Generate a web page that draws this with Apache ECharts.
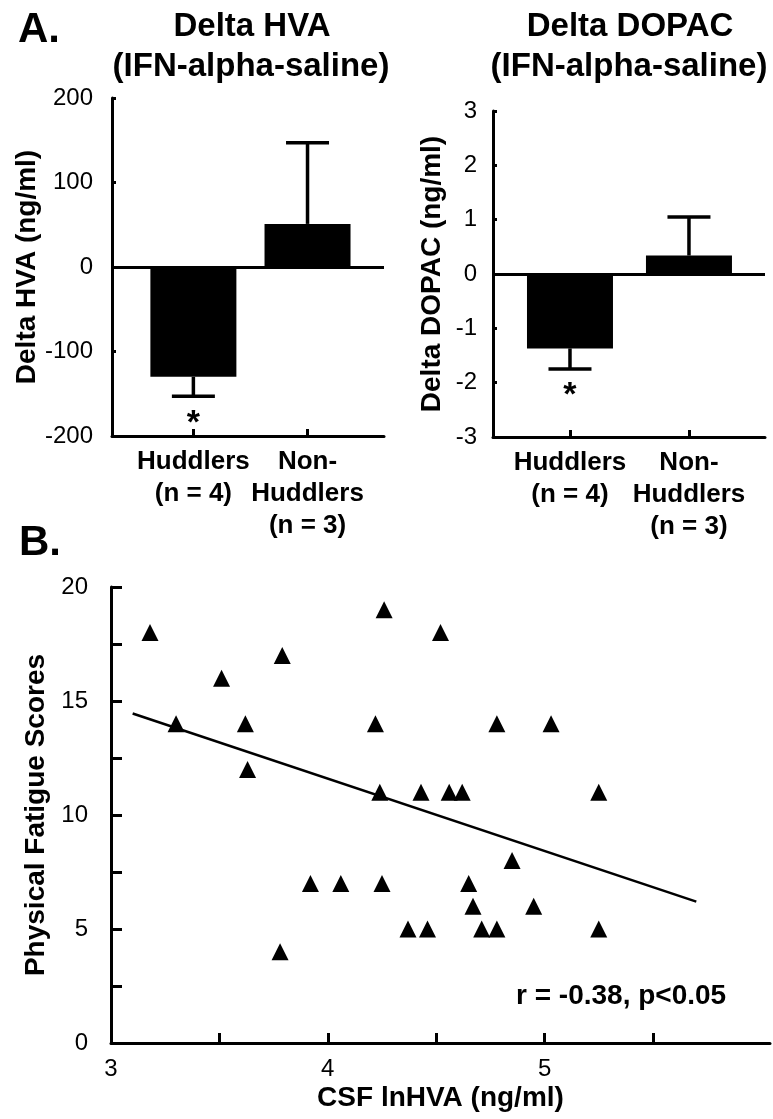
<!DOCTYPE html>
<html>
<head>
<meta charset="utf-8">
<script src="https://cdn.jsdelivr.net/npm/echarts@6/dist/echarts.min.js"></script>
<style>
html,body{margin:0;padding:0;background:#fff;}
#c{width:773px;height:1119px;}
</style>
</head>
<body>
<div id="c"></div>
<script>
// ---- data ----
const groups = ['Huddlers\n(n = 4)', 'Non-\nHuddlers\n(n = 3)'];
const hvaMean = [-130, 51];
const hvaErr = [23, 96];
const dopacMean = [-1.37, 0.34];
const dopacErr = [0.38, 0.71];
const sigMarks = ['*', ''];

const csfLnHVA = [3.18, 3.30, 3.51, 3.62, 3.63, 3.78, 3.79, 3.92, 4.06, 4.22, 4.24, 4.25, 4.26, 4.37, 4.43,
                  4.46, 4.52, 4.56, 4.62, 4.65, 4.67, 4.71, 4.78, 4.78, 4.85, 4.95, 5.03, 5.25, 5.25];
const fatigue  = [18, 14, 16, 14, 12, 4, 17, 7, 7, 14, 11, 7, 19, 5, 11,
                  5, 18, 11, 11, 7, 6, 5, 14, 5, 8, 6, 14, 11, 5];
const fitX = [3.10, 5.70];
const fitY = [14.45, 6.2];

const hvaTicks = [-200, -100, 0, 100, 200];
const dopacTicks = [-3, -2, -1, 0, 1, 2, 3];
const scatterXLabels = [3, 4, 5];
const scatterXTicks = [3, 3.5, 4, 4.5, 5, 5.5];
const scatterYLabels = [0, 5, 10, 15, 20];
const scatterYTicks = [0, 2.5, 5, 7.5, 10, 12.5, 15, 17.5, 20];
const corrText = 'r = -0.38, p<0.05';

// ---- helpers ----
const FF = "'Liberation Sans', Arial, Helvetica, sans-serif";
const idx = groups.map((g, i) => i);

function barData(means) { return means.map((m, i) => [i, m]); }
function errData(means, errs) { return means.map((m, i) => [i, m, errs[i]]); }

function errRender(params, api) {
  const x = api.value(0), m = api.value(1), e = api.value(2);
  const end = m < 0 ? m - e : m + e;
  const p0 = api.coord([x, m]);
  const p1 = api.coord([x, end]);
  const half = 21.5;
  const children = [
    { type: 'line', shape: { x1: p0[0], y1: p0[1], x2: p1[0], y2: p1[1] }, style: { stroke: '#000', lineWidth: 3.5 } },
    { type: 'line', shape: { x1: p1[0] - half, y1: p1[1], x2: p1[0] + half, y2: p1[1] }, style: { stroke: '#000', lineWidth: 3.5 } }
  ];
  const s = sigMarks[params.dataIndex];
  if (s) {
    children.push({ type: 'text', x: p1[0], y: p1[1] + 27,
      style: { text: s, font: 'bold 34px ' + FF, fill: '#000', textAlign: 'center', textVerticalAlign: 'middle' } });
  }
  return { type: 'group', children };
}

function catXAxis(grid, min, max) {
  return {
    type: 'value', gridIndex: grid, min: min, max: max,
    splitLine: { show: false },
    axisLine: { onZero: false, lineStyle: { color: '#000', width: 3 } },
    axisTick: { show: true, inside: true, length: 7, customValues: idx, lineStyle: { color: '#000', width: 3 } },
    axisLabel: { customValues: idx, formatter: v => groups[Math.round(v)], color: '#000',
      fontFamily: FF, fontWeight: 'bold', fontSize: 26, lineHeight: 32, margin: 10 }
  };
}

function valYAxis(grid, min, max, interval, name, gap, labelMargin) {
  return {
    type: 'value', gridIndex: grid, min: min, max: max, interval: interval,
    splitLine: { show: false },
    axisLine: { show: true, onZero: false, lineStyle: { color: '#000', width: 3 } },
    axisTick: { show: true, inside: true, length: 4, lineStyle: { color: '#000', width: 3 } },
    axisLabel: { color: '#000', fontFamily: FF, fontSize: 24, margin: labelMargin },
    name: name, nameLocation: 'middle', nameGap: gap,
    nameTextStyle: { color: '#000', fontFamily: FF, fontWeight: 'bold', fontSize: 28 }
  };
}

const zeroLine = {
  silent: true, symbol: 'none', label: { show: false },
  lineStyle: { color: '#000', width: 3, type: 'solid' },
  data: [{ yAxis: 0 }]
};

const chart = echarts.init(document.getElementById('c'), null, { renderer: 'canvas' });

const option = {
  backgroundColor: '#fff',
  animation: false,
  grid: [
    { left: 112, top: 98, width: 272, height: 338 },
    { left: 493, top: 111, width: 272, height: 326 },
    { left: 111, top: 587, width: 659, height: 456 }
  ],
  xAxis: [
    catXAxis(0, -0.713, 1.670),
    catXAxis(1, -0.647, 1.639),
    {
      type: 'value', gridIndex: 2, min: 3, max: 6.04,
      splitLine: { show: false },
      axisLine: { onZero: false, lineStyle: { color: '#000', width: 3 } },
      axisTick: { show: true, inside: true, length: 10, customValues: scatterXTicks, lineStyle: { color: '#000', width: 3 } },
      axisLabel: { customValues: scatterXLabels, color: '#000', fontFamily: FF, fontSize: 24, margin: 14 },
      name: 'CSF lnHVA (ng/ml)', nameLocation: 'middle', nameGap: 41,
      nameTextStyle: { color: '#000', fontFamily: FF, fontWeight: 'bold', fontSize: 28 }
    }
  ],
  yAxis: [
    valYAxis(0, hvaTicks[0], hvaTicks[hvaTicks.length - 1], 100, 'Delta HVA (ng/ml)', 64, 19),
    valYAxis(1, dopacTicks[0], dopacTicks[dopacTicks.length - 1], 1, 'Delta DOPAC (ng/ml)', 47, 16),
    {
      type: 'value', gridIndex: 2, min: 0, max: 20,
      splitLine: { show: false },
      axisLine: { show: true, onZero: false, lineStyle: { color: '#000', width: 3 } },
      axisTick: { show: true, inside: true, length: 11, customValues: scatterYTicks, lineStyle: { color: '#000', width: 3 } },
      axisLabel: { customValues: scatterYLabels, color: '#000', fontFamily: FF, fontSize: 24, margin: 23 },
      name: 'Physical Fatigue Scores', nameLocation: 'middle', nameGap: 61,
      nameTextStyle: { color: '#000', fontFamily: FF, fontWeight: 'bold', fontSize: 28 }
    }
  ],
  series: [
    { type: 'bar', xAxisIndex: 0, yAxisIndex: 0, data: barData(hvaMean), barWidth: 86,
      itemStyle: { color: '#000' }, markLine: zeroLine, z: 2 },
    { type: 'custom', xAxisIndex: 0, yAxisIndex: 0, data: errData(hvaMean, hvaErr),
      encode: { x: 0, y: 1 }, renderItem: errRender, z: 3 },
    { type: 'bar', xAxisIndex: 1, yAxisIndex: 1, data: barData(dopacMean), barWidth: 86,
      itemStyle: { color: '#000' }, markLine: zeroLine, z: 2 },
    { type: 'custom', xAxisIndex: 1, yAxisIndex: 1, data: errData(dopacMean, dopacErr),
      encode: { x: 0, y: 1 }, renderItem: errRender, z: 3 },
    { type: 'scatter', xAxisIndex: 2, yAxisIndex: 2,
      data: csfLnHVA.map((x, i) => [x, fatigue[i]]),
      symbol: 'triangle', symbolSize: 17, itemStyle: { color: '#000', opacity: 1 } },
    { type: 'line', xAxisIndex: 2, yAxisIndex: 2,
      data: fitX.map((x, i) => [x, fitY[i]]),
      symbol: 'none', lineStyle: { color: '#000', width: 2.5 } }
  ],
  graphic: [
    { type: 'text', x: 18, y: 30, style: { text: 'A.', font: 'bold 42px ' + FF, fill: '#000', textVerticalAlign: 'middle' } },
    { type: 'text', x: 252, y: 27, style: { text: 'Delta HVA', font: 'bold 33px ' + FF, fill: '#000', textAlign: 'center', textVerticalAlign: 'middle' } },
    { type: 'text', x: 251, y: 67, style: { text: '(IFN-alpha-saline)', font: 'bold 33px ' + FF, fill: '#000', textAlign: 'center', textVerticalAlign: 'middle' } },
    { type: 'text', x: 630, y: 27, style: { text: 'Delta DOPAC', font: 'bold 33px ' + FF, fill: '#000', textAlign: 'center', textVerticalAlign: 'middle' } },
    { type: 'text', x: 629, y: 67, style: { text: '(IFN-alpha-saline)', font: 'bold 33px ' + FF, fill: '#000', textAlign: 'center', textVerticalAlign: 'middle' } },
    { type: 'text', x: 19, y: 543, style: { text: 'B.', font: 'bold 42px ' + FF, fill: '#000', textVerticalAlign: 'middle' } },
    { type: 'text', x: 516, y: 996, style: { text: corrText, font: 'bold 28px ' + FF, fill: '#000', textVerticalAlign: 'middle' } }
  ]
};

chart.setOption(option);
</script>
</body>
</html>
